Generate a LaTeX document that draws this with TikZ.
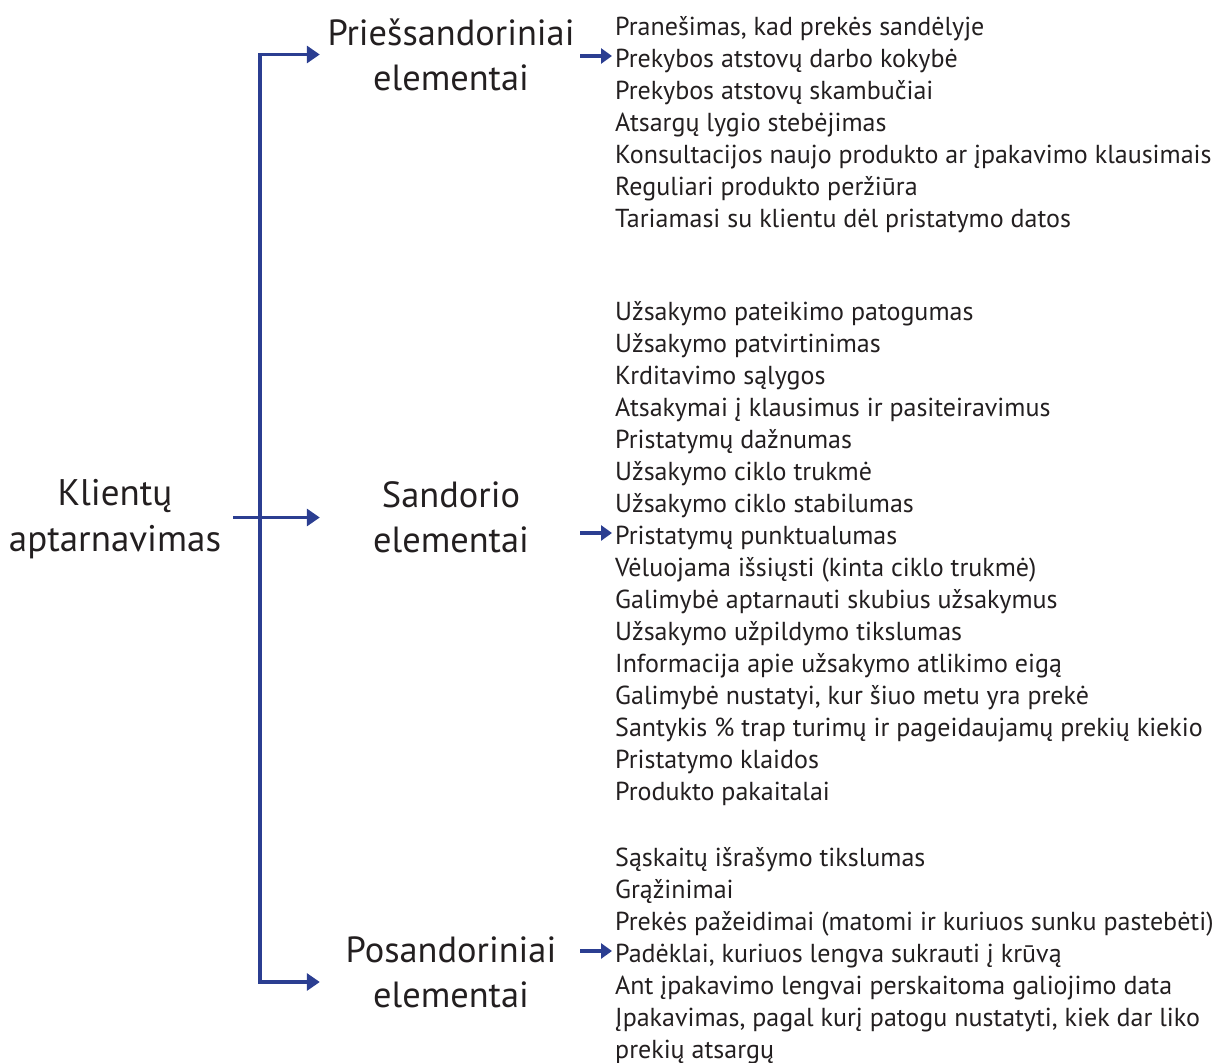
\documentclass[tikz,border=0pt]{standalone}
\usepackage{fontspec}
\setmainfont{PT Sans}
\usetikzlibrary{arrows.meta}
\definecolor{ink}{RGB}{35,31,32}
\definecolor{linkblue}{RGB}{43,62,145}
\tikzset{
  bigtip/.tip={Triangle[length=13pt,width=17pt]},
  smalltip/.tip={Triangle[length=11pt,width=15pt]},
}
\begin{document}
\begin{tikzpicture}[x=1pt,y=-1pt,
  every node/.style={text=ink, inner sep=0pt},
  topic/.style={font=\fontsize{36.4}{45}\selectfont, align=center, minimum width=262pt},
  item/.style={font=\fontsize{26}{32}\selectfont, anchor=base west, inner xsep=3pt,
    text height=25pt, text depth=2pt},
  link/.style={draw=linkblue, line width=3.2pt},
]
\useasboundingbox (0,0) rectangle (1214,1062);

% root and the three groups
\node[font=\fontsize{37}{46}\selectfont, align=center, inner xsep=12pt] (root) at (115,519)
  {Klientų\\aptarnavimas};
\node[topic] (pre) at (451,54.5) {Priešsandoriniai\\elementai};
\node[topic] (san) at (451,517.5) {Sandorio\\elementai};
\node[topic] (pos) at (451,972) {Posandoriniai\\elementai};

% item lists
\foreach \t [count=\i] in {
  {Pranešimas, kad prekės sandėlyje},
  {Prekybos atstovų darbo kokybė},
  {Prekybos atstovų skambučiai},
  {Atsargų lygio stebėjimas},
  {Konsultacijos naujo produkto ar įpakavimo klausimais},
  {Reguliari produkto peržiūra},
  {Tariamasi su klientu dėl pristatymo datos}}
  \node[item] (a\i) at (612,{35.5+32*(\i-1)}) {\t};

\foreach \t [count=\i] in {
  {Užsakymo pateikimo patogumas},
  {Užsakymo patvirtinimas},
  {Krditavimo sąlygos},
  {Atsakymai į klausimus ir pasiteiravimus},
  {Pristatymų dažnumas},
  {Užsakymo ciklo trukmė},
  {Užsakymo ciklo stabilumas},
  {Pristatymų punktualumas},
  {Vėluojama išsiųsti (kinta ciklo trukmė)},
  {Galimybė aptarnauti skubius užsakymus},
  {Užsakymo užpildymo tikslumas},
  {Informacija apie užsakymo atlikimo eigą},
  {Galimybė nustatyi, kur šiuo metu yra prekė},
  {Santykis \% trap turimų ir pageidaujamų prekių kiekio},
  {Pristatymo klaidos},
  {Produkto pakaitalai}}
  \node[item] (b\i) at (612,{320.5+32*(\i-1)}) {\t};

\foreach \t [count=\i] in {
  {Sąskaitų išrašymo tikslumas},
  {Grąžinimai},
  {Prekės pažeidimai (matomi ir kuriuos sunku pastebėti)},
  {Padėklai, kuriuos lengva sukrauti į krūvą},
  {Ant įpakavimo lengvai perskaitoma galiojimo data},
  {Įpakavimas, pagal kurį patogu nustatyti, kiek dar liko},
  {prekių atsargų}}
  \node[item] (c\i) at (612,{866.5+32*(\i-1)}) {\t};

% branching connectors
\coordinate (sp) at (260,0);
\coordinate (pw) at ([yshift=-10pt]pos.west);
\draw[link, line join=miter, bigtip-bigtip]
  (pre.west) -- (sp |- pre.west) -- (sp |- pw) -- (pw);
\draw[link, -bigtip] (root.east |- san.west) -- (san.west);

% pointers into the lists
\draw[link, -smalltip] ([xshift=-2pt]pre.east |- a2.west) -- (a2.west);
\draw[link, -smalltip] ([xshift=-2pt]san.east |- b8.west) -- (b8.west);
\draw[link, -smalltip] ([xshift=-2pt]pos.east |- c4.west) -- (c4.west);
\end{tikzpicture}
\end{document}
